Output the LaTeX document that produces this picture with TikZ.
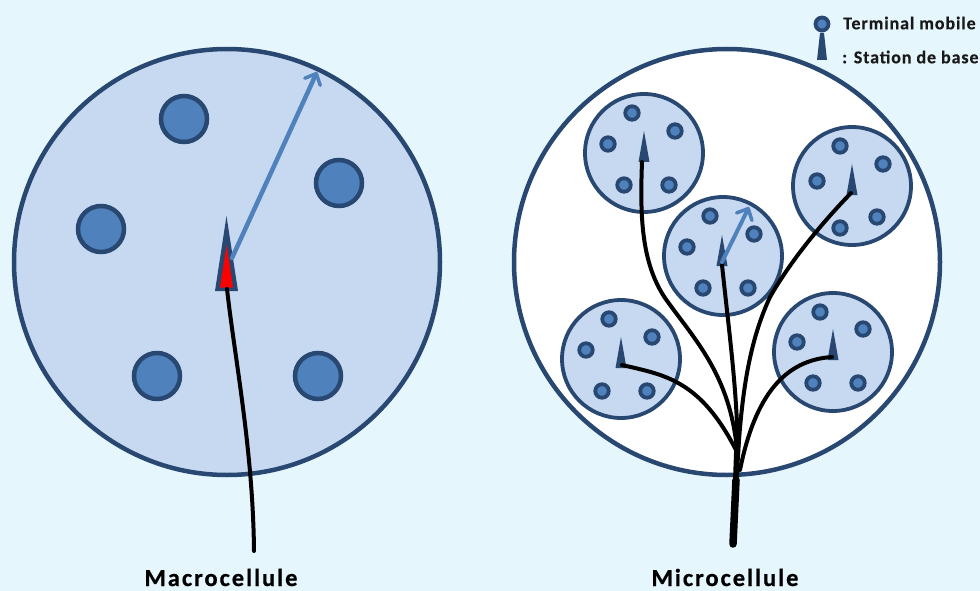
\documentclass[tikz,border=0pt]{standalone}
\usepackage{fontspec}
\setmainfont{Carlito}
\usepackage{tikz}
\usetikzlibrary{arrows.meta, backgrounds}
\definecolor{skybg}{HTML}{E6F6FD}
\definecolor{cellblue}{HTML}{C6D9F0}
\definecolor{rimblue}{HTML}{284872}
\definecolor{termblue}{HTML}{4F81BD}
\newfontfamily\titlefont[LetterSpace=8,FakeBold=0.6]{Carlito Bold}
\newfontfamily\legendfont[LetterSpace=5,FakeBold=0.3]{Carlito Bold}

\begin{document}
\begin{tikzpicture}[
    x=1pt, y=-1pt,
    bigcell/.style={circle, draw=rimblue, line width=4.5pt, minimum size=426pt, inner sep=0pt},
    cell/.style={circle, draw=rimblue, line width=3.8pt, fill=cellblue, minimum size=118pt, inner sep=0pt},
    bigterm/.style={circle, draw=rimblue, line width=4.5pt, fill=termblue, minimum size=46pt, inner sep=0pt},
    term/.style={circle, draw=rimblue, line width=3.8pt, fill=termblue, minimum size=13.5pt, inner sep=0pt},
    radius/.style={draw=termblue, line cap=round, -{Straight Barb[length=9pt, width=17pt, line width=3.5pt, round]}},
    wire/.style={draw=black, line width=4pt, line cap=round},
    title/.style={font=\titlefont\fontsize{24.5}{26}\selectfont, text=black, inner sep=0pt, anchor=base},
    legend/.style={font=\legendfont\fontsize{18}{20}\selectfont, text=black!90, inner sep=0pt, anchor=west},
]

\useasboundingbox (0,0) rectangle (980,591);
\fill[skybg] (0,0) rectangle (980,591);

% the two big cells
\node[bigcell, fill=cellblue] (macro) at (227,262) {};
\node[bigcell, fill=white] (micro) at (727,262) {};

% macro terminals
\foreach \i/\x/\y in {1/184/119,2/339/183,3/101/229,4/157/376,5/318/376}{
  \node[bigterm] (m\i) at (\x,\y) {};
}

% micro cells
\foreach \i/\x/\y in {1/644/153,2/852/186,3/723/256,4/621/359,5/833/352}{
  \node[cell] (c\i) at (\x,\y) {};
}

% micro terminals
\foreach \i/\x/\y in {1/632/113,2/675/131,3/608/144,4/624/185,5/669/185,
    6/840/146,7/883/164,8/817/181,9/840/228,10/877/217,
    11/710/216,12/754/234,13/687/247,14/703/288,15/748/288,
    16/609/319,17/652/337,18/586/350,19/602/391,20/647/391,
    21/820/312,22/863/329,23/797/342,24/813/383,25/858/383}{
  \node[term] (t\i) at (\x,\y) {};
}

% base stations
\foreach \i/\x/\y in {1/644/162,2/852/195,3/722/266,4/621/368,5/833/360}{
  \fill[rimblue] ({\x-5.5},\y) -- (\x,{\y-31}) -- ({\x+5.5},\y) -- cycle;
}
\coordinate (e1) at (642,162);
\coordinate (e2) at (851,193);
\coordinate (e3) at (722,265);
\coordinate (e4) at (622,365);
\coordinate (e5) at (832,357);
\fill[rimblue] (215,291) -- (226.5,216) -- (238,291) -- cycle;
\fill[red] (220,287.5) -- (226.7,245) -- (233,287.5) -- cycle;
\coordinate (macrobase) at (227,289);
\coordinate (macrofoot) at (254,551);
\coordinate (macrotop) at (232,258);
\coordinate (macrorim) at (317,72);

% wires
\draw[wire] (macrofoot) .. controls (253,450) and (235,360) .. (macrobase);
\coordinate (root) at (733,544);
\coordinate (fork) at (737.5,440);
\draw[wire, line width=7.5pt] (root) -- (736,480);
\draw[wire, line width=6pt] (736,480) -- (fork);
\draw[wire] (e1) .. controls (640,215) and (641,262) .. (665,298) .. controls (695,340) and (730,375) .. (737,450);
\draw[wire] (e2) .. controls (820,225) and (790,262) .. (770,297) .. controls (750,340) and (742,390) .. (738,455);
\draw[wire] (e3) .. controls (730,340) and (737,390) .. (738,455);
\draw[wire] (e4) .. controls (665,375) and (700,380) .. (736,450);
\draw[wire] (e5) .. controls (785,360) and (755,395) .. (740,470);

% radius arrows
\draw[radius, line width=4.5pt] (macrotop) -- (macrorim);
\coordinate (microtop) at (722,262);
\coordinate (microrim) at (749,207);
\draw[radius, line width=4pt] (microtop) -- (microrim);

% legend
\node[term, minimum size=13pt] (legterm) at (822,24) {};
\fill[rimblue] (817,60) -- (820,33) -- (824,33) -- (827,60) -- cycle;
\node[legend] (legt) at (843,23) {Terminal mobile};
\node[legend] (legs) at (842,57) {: Station de base};

% titles
\node[title] (macrolbl) at (221,586) {Macrocellule};
\node[title] (microlbl) at (725,586) {Microcellule};

\end{tikzpicture}
\end{document}
